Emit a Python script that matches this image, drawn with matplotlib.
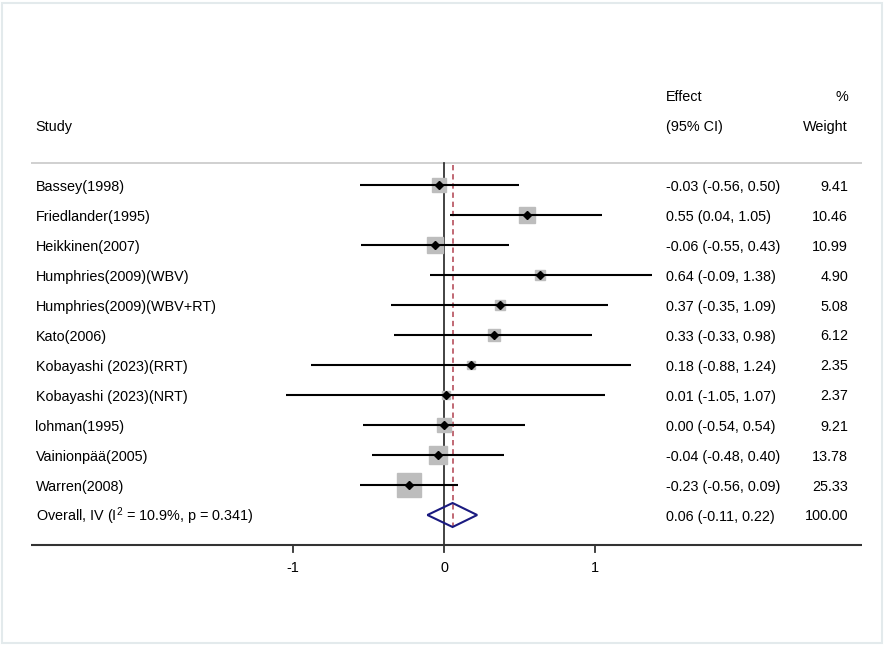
import matplotlib
matplotlib.use("Agg")
import matplotlib.pyplot as plt
from matplotlib.patches import Rectangle

plt.rcParams['font.family'] = ['Liberation Sans', 'DejaVu Sans']
plt.rcParams['mathtext.fontset'] = 'custom'
plt.rcParams['mathtext.rm'] = 'Liberation Sans'
plt.rcParams['mathtext.default'] = 'regular'

studies = ["Bassey(1998)", "Friedlander(1995)", "Heikkinen(2007)", "Humphries(2009)(WBV)",
           "Humphries(2009)(WBV+RT)", "Kato(2006)", "Kobayashi (2023)(RRT)", "Kobayashi (2023)(NRT)",
           "lohman(1995)", "Vainionpää(2005)", "Warren(2008)"]
effects = [-0.03, 0.55, -0.06, 0.64, 0.37, 0.33, 0.18, 0.01, 0.00, -0.04, -0.23]
lower = [-0.56, 0.04, -0.55, -0.09, -0.35, -0.33, -0.88, -1.05, -0.54, -0.48, -0.56]
upper = [0.50, 1.05, 0.43, 1.38, 1.09, 0.98, 1.24, 1.07, 0.54, 0.40, 0.09]
weights = [9.41, 10.46, 10.99, 4.90, 5.08, 6.12, 2.35, 2.37, 9.21, 13.78, 25.33]

overall_label = "Overall, IV (I$^{2}$ = 10.9%, p = 0.341)"
overall_es = 0.057
overall_lo = -0.11
overall_hi = 0.22
overall_w = 100.00

xticks = [-1, 0, 1]

W, H = 886, 646
fig = plt.figure(figsize=(W / 100, H / 100), dpi=100)
ax = fig.add_axes([0, 0, 1, 1])
X0, SC = 444.0, 150.7      # pixel of x=0 and pixels per unit
Y0, RS = 185.0, 30.0       # pixel of first row and row spacing

def px(x):
    return (x - X0) / SC

def py(y):
    return (y - Y0) / RS

ax.set_xlim(px(0), px(W))
ax.set_ylim(py(H), py(0))
ax.axis('off')

fs = 10.4
dy = 1.5 / RS   # text sits slightly below marker centre
n = len(studies)
rows = list(range(n))
orow = n
XL, XE, XW = px(35.5), px(666), px(848)

# header
ax.text(XL, py(127), "Study", fontsize=fs, va='center', ha='left')
ax.text(XE, py(97), "Effect", fontsize=fs, va='center', ha='left')
ax.text(XE, py(127), "(95% CI)", fontsize=fs, va='center', ha='left')
ax.text(XW, py(97), "%", fontsize=fs, va='center', ha='right')
ax.text(XW, py(127), "Weight", fontsize=fs, va='center', ha='right')
ax.plot([px(31), px(862)], [py(163), py(163)], color='#c8c8c8', lw=1.2, solid_capstyle='butt')

# zero line and overall line
ax.plot([0, 0], [py(163), py(545)], color='#222222', lw=1.2, zorder=2)
ax.plot([overall_es, overall_es], [py(165), py(527)], color='#b0404e', lw=1.1,
        dashes=(3.5, 2.5), zorder=2)

wmax = max(weights)
for i in rows:
    ax.plot([lower[i], upper[i]], [i, i], color='black', lw=1.5, zorder=3, solid_capstyle='butt')
    ms = 17.3 * (weights[i] / wmax) ** 0.5
    ax.plot(effects[i], i, marker='s', ms=ms, color='#bdbdbd', mec='#bdbdbd', zorder=2.5)
    ax.plot(effects[i], i, marker='D', ms=4.5, color='black', zorder=4)
    ax.text(XL, i + dy, studies[i], fontsize=fs, va='center', ha='left')
    ax.text(XE, i + dy, f"{effects[i]:.2f} ({lower[i]:.2f}, {upper[i]:.2f})",
            fontsize=fs, va='center', ha='left')
    ax.text(XW, i + dy, f"{weights[i]:.2f}", fontsize=fs, va='center', ha='right')

# overall diamond
hh = 0.4
ax.fill([overall_lo, overall_es, overall_hi, overall_es, overall_lo],
        [orow, orow - hh, orow, orow + hh, orow], facecolor='none',
        edgecolor='#1a1a80', lw=1.5, zorder=5)
ax.text(XL, orow + dy, overall_label, fontsize=fs, va='center', ha='left')
ax.text(XE, orow + dy, f"{overall_es:.2f} ({overall_lo:.2f}, {overall_hi:.2f})",
        fontsize=fs, va='center', ha='left')
ax.text(XW, orow + dy, f"{overall_w:.2f}", fontsize=fs, va='center', ha='right')

# x axis
ax.plot([px(31), px(862)], [py(545), py(545)], color='#333333', lw=1.5, solid_capstyle='butt')
for t in xticks:
    ax.plot([t, t], [py(545), py(552)], color='#333333', lw=1.3)
    ax.text(t, py(568), f"{t:g}", fontsize=fs, va='center', ha='center')

# faint frame
fig.patches.append(Rectangle((2 / W, 3 / H), 880 / W, 640 / H, transform=fig.transFigure,
                             fill=False, edgecolor='#e3eaec', lw=1.5))

fig.savefig("out.png", dpi=100)
